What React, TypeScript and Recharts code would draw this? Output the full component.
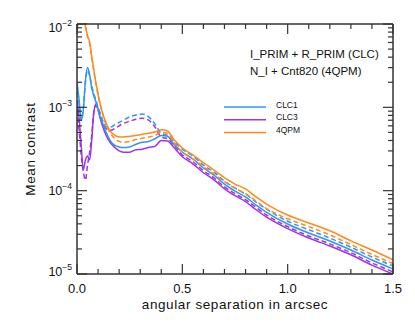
import React from 'react';
import { LineChart, Line, XAxis, YAxis } from 'recharts';

// angular separation (arcsec)
const sep = [
  0, 0.01, 0.02, 0.03, 0.04, 0.05, 0.06, 0.07, 0.08, 0.09, 0.1, 0.11, 0.12,
  0.14, 0.16, 0.18, 0.2, 0.22, 0.25, 0.28, 0.31, 0.34, 0.37, 0.4, 0.43, 0.46,
  0.5, 0.55, 0.6, 0.65, 0.7, 0.75, 0.8, 0.85, 0.9, 1.0, 1.1, 1.2, 1.3, 1.4, 1.5,
];

// CLC1, I_PRIM + R_PRIM (solid) / N_I + Cnt820 (dashed)
const clc1Solid = [
  2.0e-3, 1.22e-3, 7.0e-4, 9.3e-4, 2.1e-3, 3.0e-3, 2.45e-3, 1.7e-3, 1.37e-3, 1.16e-3, 9.3e-4, 7.6e-4, 6.6e-4,
  4.9e-4, 3.9e-4, 3.5e-4, 3.35e-4, 3.3e-4, 3.35e-4, 3.6e-4, 3.8e-4, 3.9e-4, 4.2e-4, 4.6e-4, 4.5e-4, 3.6e-4,
  2.91e-4, 2.4e-4, 1.87e-4, 1.54e-4, 1.2e-4, 9.9e-5, 8.4e-5, 6.7e-5, 5.5e-5, 3.98e-5, 3.1e-5, 2.49e-5, 1.94e-5, 1.47e-5, 1.15e-5,
];
const clc1Dashed = [
  1.9e-3, 1.16e-3, 7.0e-4, 9.8e-4, 2.0e-3, 2.8e-3, 2.4e-3, 1.8e-3, 1.45e-3, 1.22e-3, 1.0e-3, 8.6e-4, 7.2e-4,
  5.8e-4, 5.8e-4, 6.2e-4, 6.6e-4, 7.0e-4, 7.7e-4, 8.1e-4, 8.3e-4, 7.7e-4, 6.3e-4, 4.9e-4, 4.6e-4, 3.9e-4,
  3.15e-4, 2.6e-4, 2.03e-4, 1.67e-4, 1.3e-4, 1.08e-4, 9.1e-5, 7.3e-5, 6.0e-5, 4.3e-5, 3.4e-5, 2.7e-5, 2.1e-5, 1.6e-5, 1.25e-5,
];

// CLC3
const clc3Solid = [
  1.22e-3, 7.4e-4, 3.5e-4, 1.77e-4, 2.33e-4, 2.6e-4, 2.33e-4, 4.06e-4, 8.8e-4, 1.1e-3, 9.5e-4, 7.4e-4, 6.1e-4,
  4.5e-4, 3.7e-4, 3.3e-4, 3.0e-4, 2.9e-4, 2.9e-4, 3.1e-4, 3.15e-4, 3.3e-4, 3.4e-4, 4.0e-4, 3.95e-4, 3.3e-4,
  2.55e-4, 2.1e-4, 1.64e-4, 1.35e-4, 1.05e-4, 8.7e-5, 7.4e-5, 5.9e-5, 4.8e-5, 3.5e-5, 2.7e-5, 2.17e-5, 1.7e-5, 1.28e-5, 1.0e-5,
];
const clc3Dashed = [
  9.3e-4, 5.3e-4, 2.68e-4, 1.7e-4, 1.34e-4, 2.03e-4, 2.9e-4, 4.66e-4, 8.8e-4, 1.05e-3, 9.3e-4, 7.9e-4, 6.5e-4,
  5.5e-4, 5.3e-4, 5.6e-4, 6.0e-4, 6.4e-4, 6.8e-4, 7.2e-4, 7.4e-4, 7.0e-4, 5.8e-4, 4.4e-4, 4.2e-4, 3.5e-4,
  2.7e-4, 2.23e-4, 1.74e-4, 1.43e-4, 1.11e-4, 9.2e-5, 7.8e-5, 6.3e-5, 5.1e-5, 3.7e-5, 2.86e-5, 2.3e-5, 1.8e-5, 1.36e-5, 1.06e-5,
];

// 4QPM
const qpmSolid = [
  8.5e-3, 1.2e-2, 1.4e-2, 1.15e-2, 9.5e-3, 7.2e-3, 6.1e-3, 4.1e-3, 2.8e-3, 1.96e-3, 1.45e-3, 1.1e-3, 8.8e-4,
  6.3e-4, 5.1e-4, 4.6e-4, 4.4e-4, 4.4e-4, 4.5e-4, 4.6e-4, 4.75e-4, 4.9e-4, 5.05e-4, 5.4e-4, 5.2e-4, 4.1e-4,
  3.25e-4, 2.68e-4, 2.17e-4, 1.77e-4, 1.43e-4, 1.2e-4, 1.05e-4, 8.4e-5, 6.9e-5, 5.1e-5, 4.1e-5, 3.3e-5, 2.5e-5, 1.94e-5, 1.48e-5,
];
const qpmDashed = [
  8.3e-3, 1.15e-2, 1.35e-2, 1.12e-2, 9.2e-3, 7.0e-3, 5.8e-3, 4.0e-3, 2.7e-3, 1.9e-3, 1.4e-3, 1.07e-3, 8.6e-4,
  6.0e-4, 4.8e-4, 4.2e-4, 3.9e-4, 3.8e-4, 3.9e-4, 4.1e-4, 4.25e-4, 4.4e-4, 4.6e-4, 5.0e-4, 4.9e-4, 3.8e-4,
  2.9e-4, 2.4e-4, 1.94e-4, 1.58e-4, 1.28e-4, 1.07e-4, 9.2e-5, 7.5e-5, 6.1e-5, 4.6e-5, 3.7e-5, 2.95e-5, 2.25e-5, 1.72e-5, 1.33e-5,
];

const xTicks = [0, 0.1, 0.2, 0.3, 0.4, 0.5, 0.6, 0.7, 0.8, 0.9, 1.0, 1.1, 1.2, 1.3, 1.4, 1.5];
const decades = [-5, -4, -3];
const yTicks: number[] = [];
decades.forEach((e) => {
  for (let m = 1; m < 10; m++) yTicks.push(parseFloat(`${m}e${e}`));
});
yTicks.push(1e-2);

const legendItems = [
  { name: 'CLC1', color: '#2f96f0' },
  { name: 'CLC3', color: '#a033e6' },
  { name: '4QPM', color: '#ff8a1c' },
];

const BLUE = '#2f96f0';
const PURPLE = '#a033e6';
const ORANGE = '#ff8a1c';
const AXIS = '#333';
const FONT = '"Liberation Sans", Arial, Helvetica, sans-serif';

const data = sep.map((s, i) => ({
  sep: s,
  clc1: clc1Solid[i],
  clc1d: clc1Dashed[i],
  clc3: clc3Solid[i],
  clc3d: clc3Dashed[i],
  qpm: qpmSolid[i],
  qpmd: qpmDashed[i],
}));

const isHalf = (v: number) => Math.abs(v * 2 - Math.round(v * 2)) < 1e-6;
const isDecade = (v: number) => {
  const lg = Math.log10(v);
  return Math.abs(lg - Math.round(lg)) < 1e-6;
};

const BottomTick = (props: any) => {
  const { x, y, payload } = props;
  const v = payload.value;
  const major = isHalf(v);
  return (
    <g>
      <line x1={x} x2={x} y1={y} y2={y - (major ? 10 : 5)} stroke={AXIS} strokeWidth={1.2} />
      {major && (
        <text x={x} y={y + 19} textAnchor="middle" fontSize={13} fill="#111" fontFamily={FONT}>
          {v.toFixed(1)}
        </text>
      )}
    </g>
  );
};

const TopTick = (props: any) => {
  const { x, y, payload } = props;
  const major = isHalf(payload.value);
  return <line x1={x} x2={x} y1={y} y2={y + (major ? 10 : 5)} stroke={AXIS} strokeWidth={1.2} />;
};

const LeftTick = (props: any) => {
  const { x, y, payload } = props;
  const v = payload.value;
  const major = isDecade(v);
  const e = Math.round(Math.log10(v));
  let base = y + 4.5;
  if (e === -2) base = y + 8;
  if (e === -5) base = y + 2;
  return (
    <g>
      <line x1={x} x2={x + (major ? 10 : 5)} y1={y} y2={y} stroke={AXIS} strokeWidth={1.2} />
      {major && (
        <text x={x - 5} y={base} textAnchor="end" fontSize={12.5} fill="#111" fontFamily={FONT}>
          10
          <tspan dy={-6} fontSize={8.5}>{`\u2212${-e}`}</tspan>
        </text>
      )}
    </g>
  );
};

const RightTick = (props: any) => {
  const { x, y, payload } = props;
  const major = isDecade(payload.value);
  return <line x1={x} x2={x - (major ? 10 : 5)} y1={y} y2={y} stroke={AXIS} strokeWidth={1.2} />;
};

export default function App() {
  const axisLine = { stroke: AXIS, strokeWidth: 1.5 };
  return (
    <div style={{ position: 'relative', width: 415, height: 323, margin: -8, background: '#fff' }}>
      <LineChart
        width={415}
        height={323}
        data={data}
        margin={{ top: 0, right: 0, bottom: 19, left: 37 }}
      >
        <XAxis
          dataKey="sep"
          type="number"
          domain={[0, 1.5]}
          ticks={xTicks}
          interval={0}
          allowDataOverflow
          height={30}
          tickSize={0}
          tickMargin={0}
          tickLine={false}
          axisLine={axisLine}
          tick={<BottomTick />}
        />
        <XAxis
          xAxisId="top"
          dataKey="sep"
          orientation="top"
          type="number"
          domain={[0, 1.5]}
          ticks={xTicks}
          interval={0}
          allowDataOverflow
          height={24}
          tickSize={0}
          tickMargin={0}
          tickLine={false}
          axisLine={axisLine}
          tick={<TopTick />}
        />
        <YAxis
          type="number"
          scale="log"
          domain={[1e-5, 1e-2]}
          ticks={yTicks}
          interval={0}
          allowDataOverflow
          width={40}
          tickSize={0}
          tickMargin={0}
          tickLine={false}
          axisLine={axisLine}
          tick={<LeftTick />}
        />
        <YAxis
          yAxisId="right"
          orientation="right"
          type="number"
          scale="log"
          domain={[1e-5, 1e-2]}
          ticks={yTicks}
          interval={0}
          allowDataOverflow
          width={22}
          tickSize={0}
          tickMargin={0}
          tickLine={false}
          axisLine={axisLine}
          tick={<RightTick />}
        />
        <Line type="monotone" dataKey="clc3d" stroke={PURPLE} strokeWidth={1.5} strokeDasharray="5 3" dot={false} isAnimationActive={false} />
        <Line type="monotone" dataKey="clc3" stroke={PURPLE} strokeWidth={1.5} dot={false} isAnimationActive={false} />
        <Line type="monotone" dataKey="clc1d" stroke={BLUE} strokeWidth={1.5} strokeDasharray="5 3" dot={false} isAnimationActive={false} />
        <Line type="monotone" dataKey="clc1" stroke={BLUE} strokeWidth={1.5} dot={false} isAnimationActive={false} />
        <Line type="monotone" dataKey="qpmd" stroke={ORANGE} strokeWidth={1.5} strokeDasharray="5 3" dot={false} isAnimationActive={false} />
        <Line type="monotone" dataKey="qpm" stroke={ORANGE} strokeWidth={1.5} dot={false} isAnimationActive={false} />
      </LineChart>
      <svg
        width={415}
        height={323}
        style={{ position: 'absolute', left: 0, top: 0, pointerEvents: 'none' }}
        fontFamily={FONT}
        fill="#111"
      >
        <text transform="translate(35,149) rotate(-90)" textAnchor="middle" fontSize={13.5} letterSpacing={0.6}>
          Mean contrast
        </text>
        <text x={235} y={309} textAnchor="middle" fontSize={13.5} letterSpacing={0.6}>
          angular separation in arcsec
        </text>
        <text x={250} y={58} fontSize={11.5}>I_PRIM + R_PRIM (CLC)</text>
        <text x={250} y={75} fontSize={11.5}>N_I + Cnt820 (4QPM)</text>
        {legendItems.map((it, i) => (
          <g key={it.name}>
            <line x1={224} x2={266} y1={107 + i * 12.7} y2={107 + i * 12.7} stroke={it.color} strokeWidth={1.5} />
            <text x={276} y={107.5 + i * 12.7} fontSize={8.5}>{it.name}</text>
          </g>
        ))}
      </svg>
    </div>
  );
}
